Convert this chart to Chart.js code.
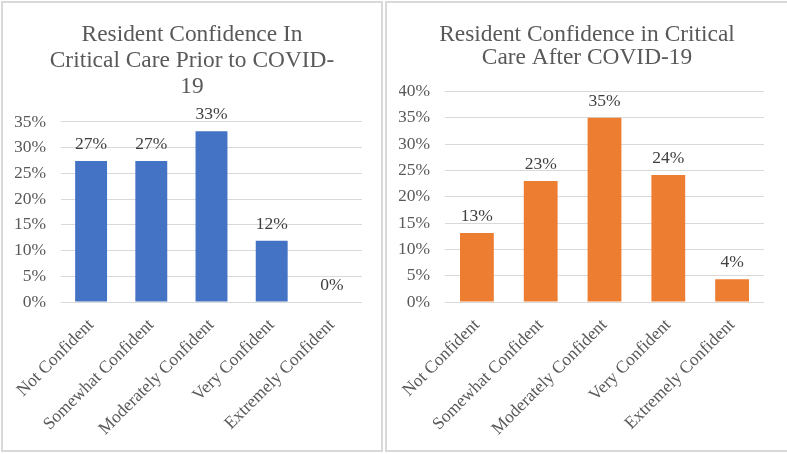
<!DOCTYPE html>
<html>
<head>
<meta charset="utf-8">
<script src="https://cdn.jsdelivr.net/npm/chart.js@4.4.0/dist/chart.umd.min.js"></script>
<style>
  html, body { margin: 0; padding: 0; background: #fff; overflow: hidden; }
  .panel { position: absolute; top: 1px; height: 451px; border: 2px solid #d9d9d9; box-sizing: border-box; background: #fff; }
  .panel canvas { display: block; }
  #p1 { left: 1px; width: 382px; }
  #p2 { left: 385px; width: 404px; }
</style>
</head>
<body>
<div class="panel" id="p1"><canvas id="before-chart" width="378" height="447"></canvas></div>
<div class="panel" id="p2"><canvas id="after-chart" width="400" height="447"></canvas></div>
<script>
var categories = ["Not Confident", "Somewhat Confident", "Moderately Confident", "Very Confident", "Extremely Confident"];
var beforeValues = [27.4, 27.4, 33.2, 11.9, 0];
var afterValues = [13.1, 23.0, 35.0, 24.1, 4.3];
var beforeTitle = ["Resident Confidence In", "Critical Care Prior to COVID-", "19"];
var afterTitle = ["Resident Confidence in Critical", "Care After COVID-19"];
var beforeMax = 35;
var afterMax = 40;
var tickStep = 5;

var textColor = '#595959';
var gridColor = '#d9d9d9';
var fontFamily = 'Liberation Serif';

// draws the value above each bar
var barLabels = {
    id: 'barLabels',
    afterDatasetsDraw: function(chart) {
        var ctx = chart.ctx;
        var meta = chart.getDatasetMeta(0);
        var data = chart.data.datasets[0].data;
        ctx.save();
        ctx.font = '17.5px "' + fontFamily + '"';
        ctx.fillStyle = '#404040';
        ctx.textAlign = 'center';
        ctx.textBaseline = 'alphabetic';
        meta.data.forEach(function(bar, i) {
            ctx.fillText(Math.round(data[i]) + '%', bar.x, bar.y - 12);
        });
        ctx.restore();
    }
};

function makeChart(id, values, color, title, max, rightGap, titlePad, lineHeight) {
    var ctx = document.getElementById(id).getContext('2d');
    return new Chart(ctx, {
        type: 'bar',
        data: {
            labels: categories,
            datasets: [{
                data: values,
                yAxisID: 'y',
                backgroundColor: color,
                borderWidth: 0,
                barPercentage: 0.53,
                categoryPercentage: 1.0
            }]
        },
        plugins: [barLabels],
        options: {
            responsive: false,
            animation: false,
            layout: { padding: { left: 12, right: 12, top: 0, bottom: 0 } },
            plugins: {
                legend: { display: false },
                tooltip: { enabled: false },
                title: {
                    display: true,
                    text: title,
                    color: textColor,
                    font: { family: fontFamily, size: 23.4, weight: 'normal', lineHeight: lineHeight },
                    padding: titlePad
                }
            },
            scales: {
                x: {
                    grid: { display: false },
                    border: { display: false },
                    ticks: {
                        autoSkip: false,
                        maxRotation: 45,
                        minRotation: 45,
                        padding: 5,
                        color: textColor,
                        font: { family: fontFamily, size: 17.5 }
                    },
                    afterFit: function(scale) {
                        scale.paddingLeft = 0;
                        scale.paddingRight = 0;
                        scale.height = 148;
                    }
                },
                y: {
                    min: 0,
                    max: max,
                    border: { display: false },
                    grid: { color: gridColor, drawTicks: false },
                    ticks: {
                        stepSize: tickStep,
                        padding: 15,
                        color: textColor,
                        font: { family: fontFamily, size: 17.5 },
                        callback: function(v) { return v + '%'; }
                    },
                    afterFit: function(scale) {
                        scale.width = 46;
                    }
                },
                // empty axis on the right, only keeps the plot off the panel edge
                yGap: {
                    position: 'right',
                    grid: { display: false },
                    border: { display: false },
                    ticks: { display: false },
                    afterFit: function(scale) {
                        scale.width = rightGap;
                    }
                }
            }
        }
    });
}

makeChart('before-chart', beforeValues, '#4472C4', beforeTitle, beforeMax,
    7, { top: 18.6, bottom: 22.4 }, 1.11);
makeChart('after-chart', afterValues, '#ED7D31', afterTitle, afterMax,
    11, { top: 20.1, bottom: 22.3 }, 0.983);
</script>
</body>
</html>
